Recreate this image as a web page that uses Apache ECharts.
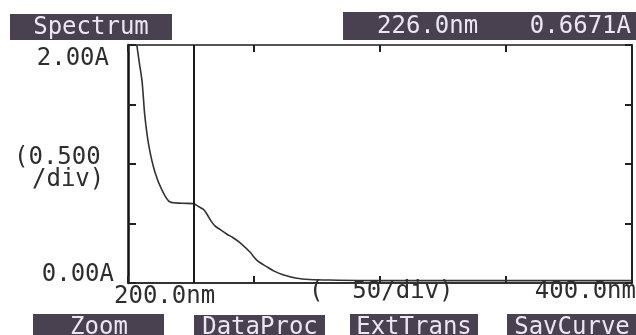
<!DOCTYPE html>
<html>
<head>
<meta charset="utf-8">
<script src="https://cdn.jsdelivr.net/npm/echarts@6/dist/echarts.min.js"></script>
<style>
html,body{margin:0;padding:0;background:#ffffff;}
#chart{width:636px;height:335px;}
</style>
</head>
<body>
<div id="chart"></div>
<script>
// ---- data ----
var wavelengths = [203.5, 204.5, 205.6, 206.7, 208.3, 210.7, 213.5, 216.7, 221.4, 226.0, 227.4, 229.8, 231.3, 233.0, 234.5, 236.5, 239.3, 241.7, 244.4, 248.4, 251.2, 255.2, 258.0, 261.5, 267.0, 272.0, 280.0, 300.0, 350.0, 400.0];
var absorbance  = [2.00, 1.85, 1.69, 1.40, 1.15, 0.93, 0.78, 0.68, 0.67, 0.667, 0.65, 0.62, 0.58, 0.52, 0.48, 0.45, 0.41, 0.38, 0.34, 0.26, 0.19, 0.135, 0.10, 0.07, 0.04, 0.03, 0.025, 0.02, 0.02, 0.02];
var cursorWavelength = 226.0;
var cursorText = ['226.0nm', '0.6671A'];
var titleText = 'Spectrum';
var yLabels = ['2.00A', '(0.500', '/div)', '0.00A'];
var xLabels = ['200.0nm', '(  50/div)', '400.0nm'];
var menuButtons = ['Zoom', 'DataProc', 'ExtTrans', 'SavCurve'];
var xRange = [200, 400, 50];
var yRange = [0, 2, 0.5];

var seriesData = wavelengths.map(function (w, i) { return [w, absorbance[i]]; });

var FONT = '24px "DejaVu Sans Mono", "Liberation Mono", monospace';
var BOX = '#4a4150';
var BOXTXT = '#ece6f2';
var INK = '#2e2e2e';

function txt(s, x, y, align, fill) {
  return { type: 'text', x: x, y: y, z: 20,
    style: { text: s, font: FONT, fill: fill || INK, align: align || 'left', verticalAlign: 'middle' } };
}
function box(x, y, w, h) {
  return { type: 'rect', z: 10, shape: { x: x, y: y, width: w, height: h }, style: { fill: BOX } };
}

var chart = echarts.init(document.getElementById('chart'));
var tick = { show: true, inside: true, length: 7, lineStyle: { color: '#222', width: 2 } };

chart.setOption({
  animation: false,
  backgroundColor: '#ffffff',
  grid: { left: 128, right: 4, top: 45, bottom: 52 },
  xAxis: [
    { type: 'value', position: 'bottom', min: xRange[0], max: xRange[1], interval: xRange[2],
      axisLine: { show: true, onZero: false, lineStyle: { color: '#333', width: 2 } },
      axisTick: tick, axisLabel: { show: false }, splitLine: { show: false } },
    { type: 'value', position: 'top', min: xRange[0], max: xRange[1], interval: xRange[2],
      axisLine: { show: true, onZero: false, lineStyle: { color: '#555', width: 2 } }, axisTick: tick,
      axisLabel: { show: false }, splitLine: { show: false } }
  ],
  yAxis: [
    { type: 'value', position: 'left', min: yRange[0], max: yRange[1], interval: yRange[2],
      axisLine: { show: true, onZero: false, lineStyle: { color: '#111', width: 2.5 } },
      axisTick: { show: true, inside: true, length: 8, lineStyle: { color: '#222', width: 2 } },
      axisLabel: { show: false }, splitLine: { show: false } },
    { type: 'value', position: 'right', min: yRange[0], max: yRange[1], interval: yRange[2],
      axisLine: { show: true, onZero: false, lineStyle: { color: '#222', width: 2 } },
      axisTick: tick, axisLabel: { show: false }, splitLine: { show: false } }
  ],
  series: [{
    type: 'line',
    xAxisIndex: 0, yAxisIndex: 0,
    data: seriesData,
    smooth: 0.3,
    showSymbol: false,
    lineStyle: { color: '#333', width: 1.6 },
    markLine: {
      silent: true, symbol: ['none', 'none'],
      label: { show: false },
      lineStyle: { color: '#1a1a1a', width: 2, type: 'solid' },
      data: [{ xAxis: cursorWavelength }]
    }
  }],
  graphic: [
    box(10, 14, 162, 26),
    txt(titleText, 91, 28, 'center', BOXTXT),
    box(343, 12, 293, 28),
    txt(cursorText[0], 377, 27, 'left', BOXTXT),
    txt(cursorText[1], 631, 27, 'right', BOXTXT),
    txt(yLabels[0], 109, 59, 'right'),
    txt(yLabels[1], 14, 158, 'left'),
    txt(yLabels[2], 32, 180, 'left'),
    txt(yLabels[3], 114, 275, 'right'),
    txt(xLabels[0], 114, 297, 'left'),
    txt(xLabels[1], 309, 292, 'left'),
    txt(xLabels[2], 636, 292, 'right'),
    box(33, 314, 131, 21),
    txt(menuButtons[0], 99, 328, 'center', BOXTXT),
    box(194, 315, 131, 20),
    txt(menuButtons[1], 260, 328, 'center', BOXTXT),
    box(350, 314, 128, 21),
    txt(menuButtons[2], 414, 328, 'center', BOXTXT),
    box(507, 314, 129, 21),
    txt(menuButtons[3], 572, 328, 'center', BOXTXT)
  ]
});
</script>
</body>
</html>
